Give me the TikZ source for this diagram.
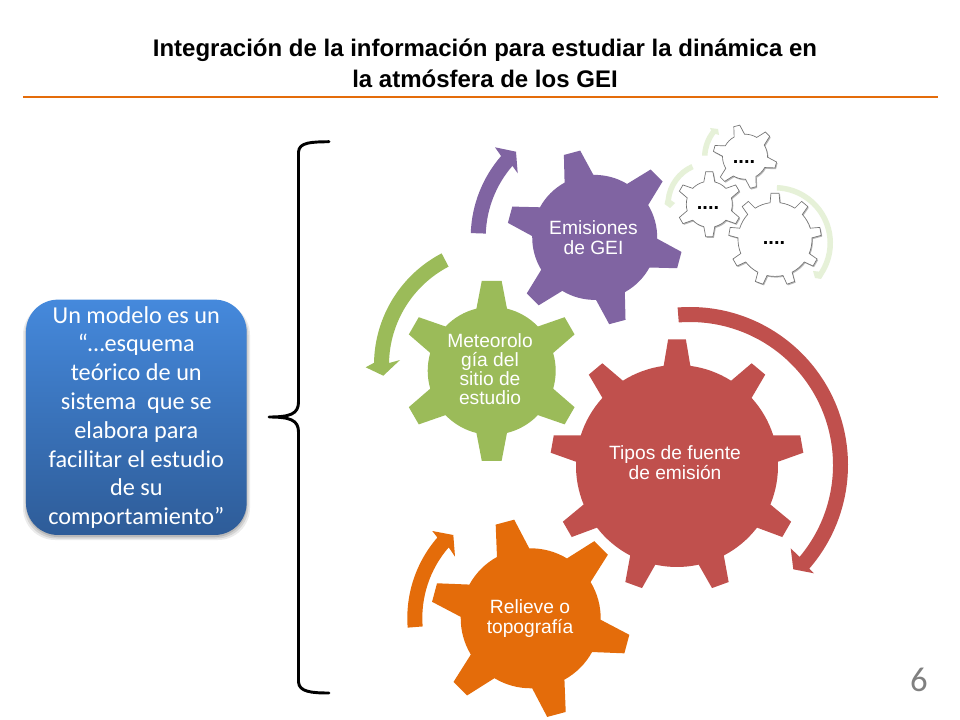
\documentclass[tikz,border=0pt]{standalone}
\usepackage{fontspec}
\setmainfont{Liberation Sans}
\newfontfamily\carl{Carlito}
\usetikzlibrary{calc}
\definecolor{cred}{HTML}{C0504D}
\definecolor{cgreen}{HTML}{9BBB59}
\definecolor{cpurple}{HTML}{8064A2}
\definecolor{corange}{HTML}{E46C0A}
\definecolor{clight}{HTML}{E6F1D8}
\definecolor{cbluetop}{HTML}{4589DC}
\definecolor{cbluebot}{HTML}{2E5C98}
% style, cx, cy, body R, tip r, last tooth index, first angle, base half angle, tip half angle
\newcommand\gearat[9]{%
  \path[#1,shift={(#2,#3)}] ({#7-#8}:#4)
    \foreach \k [evaluate=\k as \a using #7+\k*360/(#6+1),
                 evaluate=\k as \b using #7+(\k+1)*360/(#6+1)-#8] in {0,...,#6} {
      -- ({\a-#9}:#5) -- ({\a+#9}:#5) -- ({\a+#8}:#4)
      arc[start angle=\a+#8,end angle=\b,radius=#4]
    } -- cycle;}
\tikzset{
  titletext/.style={font=\bfseries\fontsize{18}{23.2}\selectfont,align=center,text=black},
  gearlabel/.style={font=\fontsize{14.4}{15}\selectfont,align=center,text=white,inner sep=0pt},
  dots/.style={font=\bfseries\fontsize{15}{15}\selectfont,text=black,inner sep=0pt},
  smallgear/.style={fill=white,draw=black!55,line width=.5pt},
  gearshadow/.style={fill=black,opacity=.28},
  modelbox/.style={top color=cbluetop,bottom color=cbluebot,rounded corners=24pt,
    minimum width=165.5pt,minimum height=176.5pt,inner sep=0pt},
  modeltext/.style={text=white,align=center,inner sep=0pt,
    font=\carl\fontsize{18.2}{21.6}\selectfont},
  bracket/.style={draw=black,line width=2.2pt,line cap=round,line join=round}
}
\begin{document}
\begin{tikzpicture}[x=.75pt,y=-.75pt]
\useasboundingbox (0,0) rectangle (960,720);
\fill[white] (0,0) rectangle (960,720);
% title
\node[titletext] (title) at (485,63.5) {Integración de la información para estudiar la dinámica en\\la atmósfera de los GEI};
\coordinate (ruleL) at (23,97);
\coordinate (ruleR) at (938,97);
\draw[corange,line width=2.2pt] (ruleL) -- (ruleR);
% box shadow
\foreach \d/\o in {0/.12,1.5/.10,3/.08}{
  \fill[black,opacity=\o,rounded corners=24pt] (26-\d,303) rectangle (247+\d,537+\d);}
\node[modelbox] (modelo) at (136.3,417.3) {};
\node[modeltext] (modelotxt) at (136.3,417.5) {Un modelo es un\\“…esquema\\teórico de un\\sistema~ que se\\elabora para\\facilitar el estudio\\de su\\comportamiento”};
% bracket
\coordinate (bt) at (329,141.7);
\coordinate (bb) at (329,693);
\coordinate (bm) at (269,417);
\draw[bracket] (bt) .. controls (312,142) and (299,142) .. (298.5,152)
   -- (298.5,402) .. controls (298.5,414) and (290,417) .. (bm)
   .. controls (290,417) and (298.5,420) .. (298.5,432)
   -- (298.5,682) .. controls (299,692) and (312,693) .. (bb);
% arrows
\path[fill=cred] ($(690,465)+(-94.5:158)$) arc[start angle=-94.5,end angle=41,radius=158]
  -- (814,573.3) -- (793.3,569.3) -- (790.7,548.3) -- ($(690,465)+(40:143)$) arc[start angle=40,end angle=-94.5,radius=143] -- cycle;
\path[fill=cgreen] ($(500,365)+(242.4:126)$) arc[start angle=242.4,end angle=181,radius=126]
  -- (365.7,367.3) -- (383.3,375.7) -- (400,360) -- ($(500,365)+(181:111)$) arc[start angle=181,end angle=242.4,radius=111] -- cycle;
\path[fill=cpurple] ($(594.7,237.4)+(182:124)$) arc[start angle=182,end angle=221,radius=124]
  -- (495,147.3) -- (516,151.7) -- (517.7,173.3) -- ($(594.7,237.4)+(221:109)$) arc[start angle=221,end angle=182,radius=109] -- cycle;
\path[fill=corange] ($(530,618)+(175.5:122.7)$) arc[start angle=175.5,end angle=221,radius=122.7]
  -- (432.3,531) -- (453.3,535) -- (455,556.7) -- ($(530,618)+(221:107.7)$) arc[start angle=221,end angle=175.5,radius=107.7] -- cycle;
% small arrows
\path[fill=clight] ($(709.3,204.3)+(246:44)$) arc[start angle=246,end angle=186,radius=44]
  -- (664.5,204) -- (670,208) -- (675,203) -- ($(709.3,204.3)+(186:38.5)$) arc[start angle=186,end angle=246,radius=38.5] -- cycle;
\path[fill=clight] ($(745,157)+(182:43)$) arc[start angle=182,end angle=218,radius=43]
  -- (710,128) -- (718,129) -- (719,135) -- ($(745,157)+(218:37.5)$) arc[start angle=218,end angle=182,radius=37.5] -- cycle;
\path[fill=clight] ($(775,243)+(-88:58)$) arc[start angle=-88,end angle=33,radius=58]
  -- (821,279) -- (815,278) -- (813,271) -- ($(775,243)+(33:52.5)$) arc[start angle=33,end angle=-88,radius=52.5] -- cycle;
% gears
\gearat{fill=cred}{677}{466}{101}{127}{8}{-90}{7.6}{4}
\gearat{fill=cgreen}{491.7}{370.8}{64}{90.5}{5}{-90}{13.8}{6.3}
\gearat{fill=cpurple}{594.7}{237.4}{62.5}{88}{5}{-105}{13.8}{5.5}
\gearat{fill=corange}{530.7}{618.3}{70}{100}{5}{-105}{13.8}{5.5}
% small gears
\gearat{gearshadow}{776}{240.6}{37}{46.4}{8}{-90}{7.6}{5}
\gearat{smallgear}{775}{239.4}{37}{46.4}{8}{-90}{7.6}{5}
\gearat{gearshadow}{746}{158}{22.5}{32}{5}{-105}{13.8}{5.5}
\gearat{smallgear}{745}{156.7}{22.5}{32}{5}{-105}{13.8}{5.5}
\gearat{gearshadow}{710.3}{205.5}{23}{32.7}{5}{-90}{13.8}{6.3}
\gearat{smallgear}{709.3}{204.3}{23}{32.7}{5}{-90}{13.8}{6.3}
% labels
\node[gearlabel] (emis) at (593.5,237.5) {Emisiones\\de GEI};
\node[gearlabel,font=\fontsize{14.4}{14.4}\selectfont] (mete) at (490,369) {Meteorolo\\gía del\\sitio de\\estudio};
\node[gearlabel] (tipos) at (675,463) {Tipos de fuente\\de emisión};
\node[gearlabel] (reli) at (530,619) {Relieve o\\topografía};
\node[dots] (d1) at (744,162.5) {....};
\node[dots] (d2) at (708,208) {....};
\node[dots] (d3) at (774,243) {....};
\node[font=\carl\fontsize{26}{30}\selectfont,text=black!50] (num) at (919,680) {6};
\end{tikzpicture}
\end{document}
